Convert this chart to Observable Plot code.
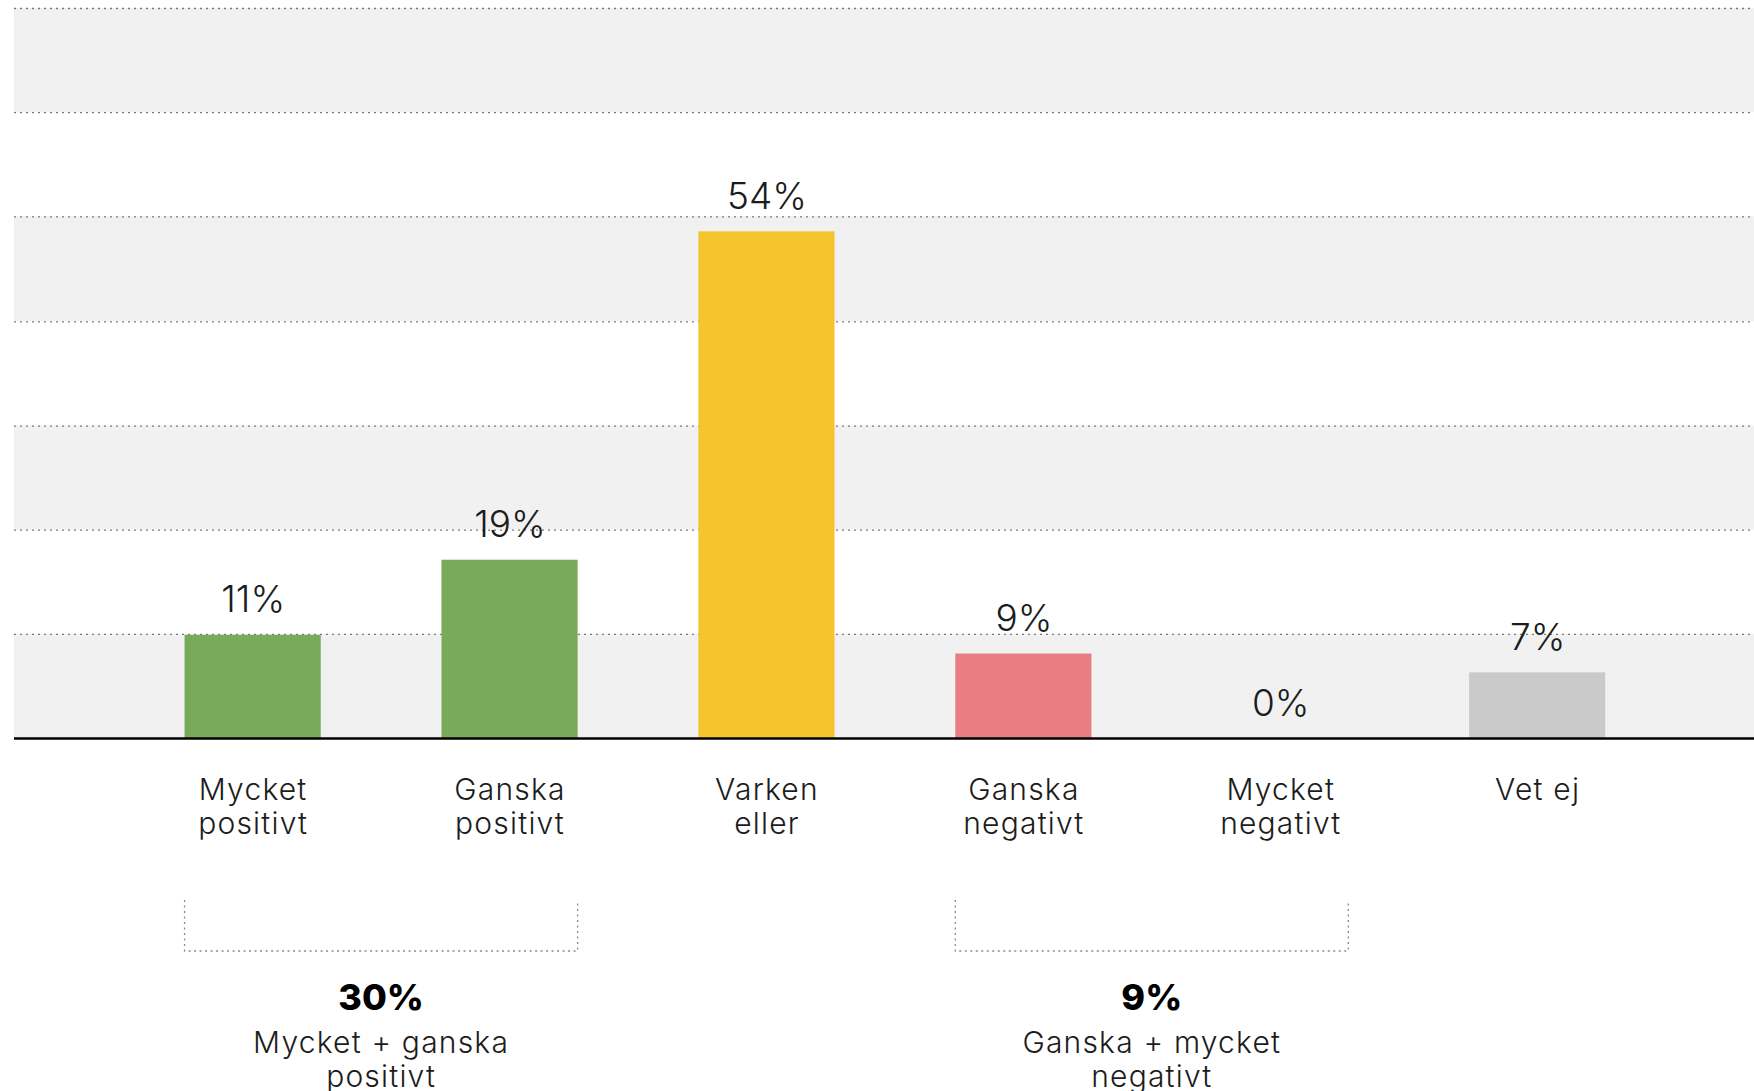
<!DOCTYPE html>
<html>
<head>
<meta charset="utf-8">
<script src="https://cdn.jsdelivr.net/npm/d3@7"></script>
<script src="https://cdn.jsdelivr.net/npm/@observablehq/plot@0.6"></script>
<style>
  html, body { margin: 0; padding: 0; background: #ffffff; }
  #chart svg { display: block; overflow: visible; }
  #chart text.wide, #chart g.wide text { letter-spacing: 1.2px; }
</style>
</head>
<body>
<div id="chart"></div>
<script>
// ---- data ----
const categories = ["Mycket positivt", "Ganska positivt", "Varken eller", "Ganska negativt", "Mycket negativt", "Vet ej"];
const categoryLabels = ["Mycket\npositivt", "Ganska\npositivt", "Varken\neller", "Ganska\nnegativt", "Mycket\nnegativt", "Vet ej"];
const values = [11, 19, 54, 9, 0, 7];
const barColors = ["#79AA5B", "#79AA5B", "#F6C42D", "#E97E82", "#E97E82", "#CACACA"];
const gridTicks = [0, 11.1, 22.2, 33.3, 44.4, 55.6, 66.7, 77.8];
const bandStarts = [0, 22.2, 44.4, 66.7];
const bandEnds = [11.1, 33.3, 55.6, 77.8];
const groupValues = [30, 9];
const groupLabels = ["Mycket + ganska\npositivt", "Ganska + mycket\nnegativt"];
const groupFrom = ["Mycket positivt", "Ganska negativt"];
const groupTo = ["Ganska positivt", "Mycket negativt"];

const data = categories.map((c, i) => ({cat: c, label: categoryLabels[i], value: values[i]}));
const bands = bandStarts.map((s, i) => ({y1: s, y2: bandEnds[i]}));
const groups = groupValues.map((v, i) => ({value: v, label: groupLabels[i], from: groupFrom[i], to: groupTo[i]}));

const FONT = "Inter, Lato, 'Noto Sans', sans-serif";
const INK = "#1c1c1c";

// custom mark: brackets and group summaries below the axis, positioned with the x scale
function groupAnnotations(index, scales, values, dims) {
  const x = scales.x;
  const bw = typeof x.bandwidth === "function" ? x.bandwidth() : x.bandwidth;
  const y0 = dims.height - dims.marginBottom;
  const g = d3.create("svg:g");
  for (const grp of groups) {
    const xl = x(grp.from);
    const xr = x(grp.to) + bw;
    const xm = (xl + xr) / 2;
    g.append("path")
      .attr("d", `M${xl},${y0 + 162}V${y0 + 213}H${xr}V${y0 + 162}`)
      .attr("fill", "none")
      .attr("stroke", "#8a8a8a")
      .attr("stroke-width", 1.3)
      .attr("stroke-dasharray", "2,3.5");
    g.append("text")
      .attr("x", xm).attr("y", y0 + 272)
      .attr("text-anchor", "middle")
      .attr("font-family", FONT).attr("font-size", 36).attr("font-weight", 800)
      .attr("fill", "#000")
      .text(grp.value + "%");
    const lines = grp.label.split("\n");
    lines.forEach((ln, i) => {
      g.append("text")
        .attr("class", "wide")
        .attr("x", xm).attr("y", y0 + 315 + i * 34)
        .attr("text-anchor", "middle")
        .attr("font-family", FONT).attr("font-size", 30).attr("font-weight", 300)
        .attr("fill", INK)
        .text(ln);
    });
  }
  return g.node();
}

const chart = Plot.plot({
  width: 1754,
  height: 1091,
  marginTop: 8,
  marginBottom: 353,
  marginLeft: 14,
  marginRight: 0,
  style: {background: "#ffffff", fontFamily: FONT},
  x: {domain: categories, range: [124.2, 1665.6], paddingInner: 0.47, paddingOuter: 0.235, align: 0.5, round: false, axis: null},
  y: {domain: [0, 77.8], axis: null},
  color: {domain: categories, range: barColors},
  marks: [
    Plot.rect(bands, {y1: "y1", y2: "y2", fill: "#F1F1F1"}),
    Plot.ruleY(gridTicks.slice(1), {stroke: "#7a7a7a", strokeWidth: 1.3, strokeDasharray: "2,4"}),
    Plot.barY(data, {x: "cat", y: "value", fill: "cat"}),
    Plot.ruleY([0], {stroke: "#000", strokeWidth: 2.6}),
    Plot.text(data, {
      x: "cat", y: "value", text: d => d.value + "%",
      lineAnchor: "bottom", dy: -23,
      fontSize: 37, fontWeight: 300, fill: INK, fontFamily: FONT
    }),
    Plot.text(data, {
      x: "cat", text: "label", frameAnchor: "bottom",
      lineAnchor: "top", lineHeight: 1.14, dy: 37.5,
      fontSize: 30, fontWeight: 300, fill: INK, fontFamily: FONT,
      className: "wide"
    }),
    groupAnnotations
  ]
});
document.getElementById("chart").appendChild(chart);
</script>
</body>
</html>
